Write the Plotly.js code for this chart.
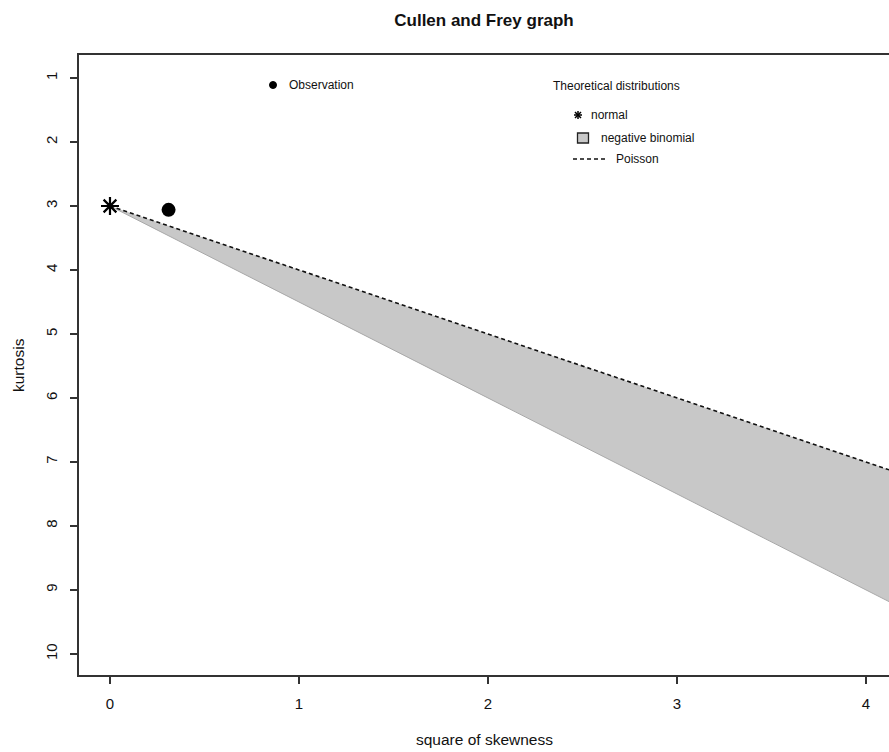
<!DOCTYPE html>
<html>
<head>
<meta charset="utf-8">
<script src="https://cdn.plot.ly/plotly-3.0.1.min.js"></script>
<style>html,body{margin:0;padding:0;background:#fff;}#chart{width:889px;height:752px;}</style>
</head>
<body>
<div id="chart"></div>
<script>
// Square of skewness values where the theoretical boundaries were read
const skewSq = [0, 1, 2, 3, 4, 4.3];
// Poisson line (upper edge of negative binomial area), kurtosis
const poissonKurt = [3, 4, 5, 6, 7, 7.3];
// Lower edge of negative binomial area, kurtosis
const negbinLowerKurt = [3, 4.5, 6, 7.5, 9, 9.45];
// Normal distribution point
const normalSkewSq = [0];
const normalKurt = [3];
// Observation
const obsSkewSq = [0.31];
const obsKurt = [3.06];
// Tick labels
const xTicks = [0, 1, 2, 3, 4];
const yTicks = [1, 2, 3, 4, 5, 6, 7, 8, 9, 10];

const FONT = 'Liberation Sans, Arial, sans-serif';

const polyX = skewSq.concat(skewSq.slice().reverse());
const polyY = poissonKurt.concat(negbinLowerKurt.slice().reverse());

const traces = [
  {x: polyX, y: polyY, type: 'scatter', mode: 'lines', fill: 'toself',
   fillcolor: '#c8c8c8', line: {color: 'rgba(0,0,0,0)', width: 0}, hoverinfo: 'skip'},
  {x: skewSq, y: negbinLowerKurt, type: 'scatter', mode: 'lines',
   line: {color: '#a8a8a8', width: 1}, hoverinfo: 'skip'},
  {x: skewSq, y: poissonKurt, type: 'scatter', mode: 'lines',
   line: {color: '#111', width: 1.6, dash: '4px,3px'}},
  {x: normalSkewSq, y: normalKurt, type: 'scatter', mode: 'markers',
   marker: {symbol: 'asterisk-open', size: 15, color: '#000', line: {color: '#000', width: 2.2}}},
  {x: obsSkewSq, y: obsKurt, type: 'scatter', mode: 'markers',
   marker: {symbol: 'circle', size: 14, color: '#000'}}
];

// paper coordinate helpers (plot area: x 79..889, y 55..675)
const px = v => (v - 79) / 810;
const py = v => (675 - v) / 620;

const shapes = [
  // Observation legend dot
  {type: 'circle', xref: 'paper', yref: 'paper', xsizemode: 'pixel', ysizemode: 'pixel',
   xanchor: px(273), yanchor: py(85), x0: -3.5, x1: 3.5, y0: -3.5, y1: 3.5,
   fillcolor: '#000', line: {color: '#000', width: 1}},
  // negative binomial square
  {type: 'rect', xref: 'paper', yref: 'paper', xsizemode: 'pixel', ysizemode: 'pixel',
   xanchor: px(583), yanchor: py(138), x0: -5.5, x1: 5.5, y0: -5, y1: 5,
   fillcolor: '#c8c8c8', line: {color: '#222', width: 1.3}},
  // Poisson dashes
  {type: 'line', xref: 'paper', yref: 'paper', x0: px(573), x1: px(605), y0: py(159), y1: py(159),
   line: {color: '#111', width: 1.3, dash: '4px,3px'}}
];
// normal asterisk in legend
[[-4,0,4,0],[0,-4,0,4],[-3,-3,3,3],[-3,3,3,-3]].forEach(s => {
  shapes.push({type: 'line', xref: 'paper', yref: 'paper', xsizemode: 'pixel', ysizemode: 'pixel',
    xanchor: px(578), yanchor: py(115), x0: s[0], y0: s[1], x1: s[2], y1: s[3],
    line: {color: '#000', width: 1.5}});
});

const legFont = {family: FONT, size: 12, color: '#111'};
const axFont = {family: FONT, size: 15.5, color: '#111'};
const annotations = [
  {text: 'Observation', xref: 'paper', yref: 'paper', x: px(287), y: py(85), xanchor: 'left', yanchor: 'middle', showarrow: false, font: legFont},
  {text: 'Theoretical distributions', xref: 'paper', yref: 'paper', x: px(551), y: py(86), xanchor: 'left', yanchor: 'middle', showarrow: false, font: legFont},
  {text: 'normal', xref: 'paper', yref: 'paper', x: px(589), y: py(115), xanchor: 'left', yanchor: 'middle', showarrow: false, font: legFont},
  {text: 'negative binomial', xref: 'paper', yref: 'paper', x: px(599), y: py(138), xanchor: 'left', yanchor: 'middle', showarrow: false, font: legFont},
  {text: 'Poisson', xref: 'paper', yref: 'paper', x: px(614), y: py(159), xanchor: 'left', yanchor: 'middle', showarrow: false, font: legFont},
  {text: 'square of skewness', xref: 'paper', yref: 'paper', x: 0.5, y: py(740), xanchor: 'center', yanchor: 'middle', showarrow: false, font: axFont},
  {text: 'kurtosis', xref: 'paper', yref: 'paper', x: px(18), y: 0.5, xanchor: 'center', yanchor: 'middle', textangle: -90, showarrow: false, font: axFont}
];

const layout = {
  width: 889, height: 752,
  margin: {l: 79, r: 0, t: 55, b: 77},
  paper_bgcolor: '#fff', plot_bgcolor: '#fff',
  showlegend: false,
  title: {text: '<b>Cullen and Frey graph</b>', font: {family: FONT, size: 17, color: '#111'},
          x: 0.5, xref: 'paper', xanchor: 'center', y: 1 - 20.5/752, yref: 'container', yanchor: 'middle'},
  xaxis: {range: [-0.164, 4.122], tickvals: xTicks, ticktext: xTicks.map(String),
          showgrid: false, zeroline: false, showline: true, mirror: true, linecolor: '#333', linewidth: 1.6,
          ticks: 'outside', ticklen: 7, tickwidth: 1.6, tickcolor: '#333',
          ticklabelstandoff: 7, tickfont: {family: FONT, size: 15, color: '#111'}},
  yaxis: {range: [10.33, 0.64], tickvals: yTicks, ticktext: yTicks.map(String),
          showgrid: false, zeroline: false, showline: true, linecolor: '#333', linewidth: 1.6,
          ticks: 'outside', ticklen: 7, tickwidth: 1.6, tickcolor: '#333', tickangle: -90,
          ticklabelstandoff: 7, tickfont: {family: FONT, size: 15, color: '#111'}},
  shapes: shapes,
  annotations: annotations
};

Plotly.newPlot('chart', traces, layout, {staticPlot: true, displayModeBar: false});
</script>
</body>
</html>
